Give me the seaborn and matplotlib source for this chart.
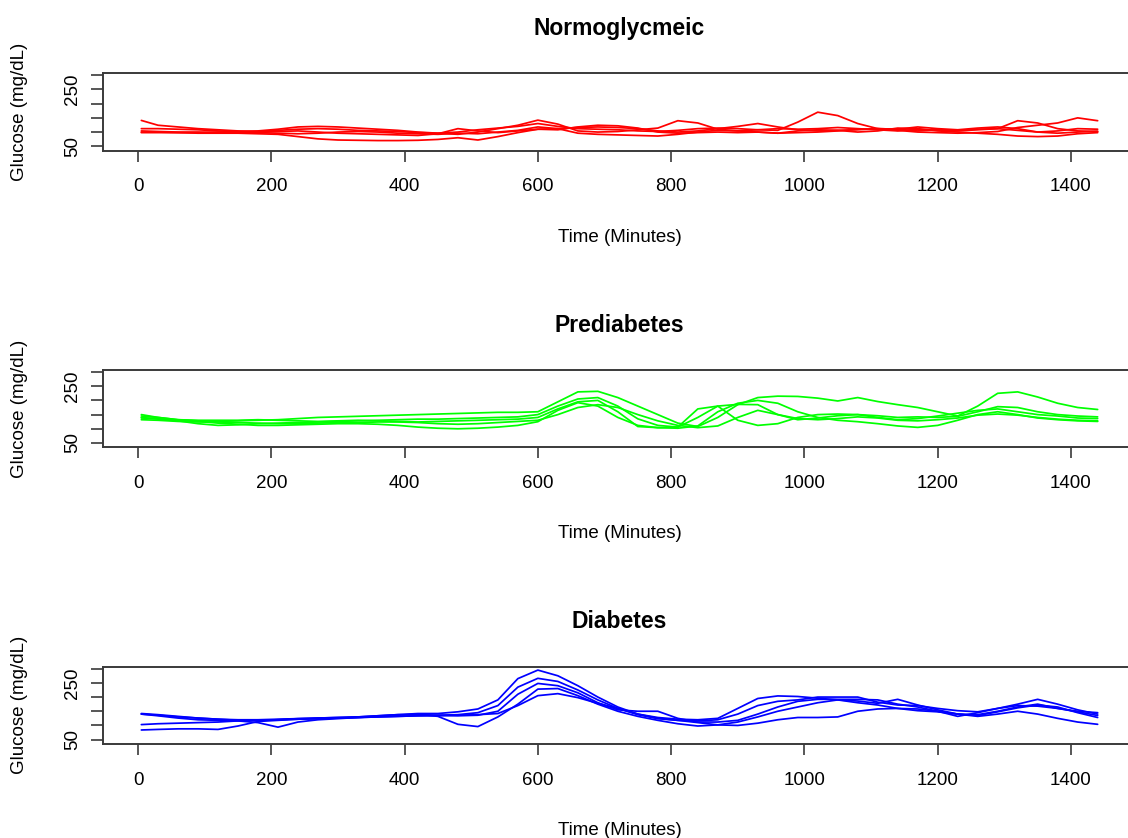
import numpy as np
import pandas as pd
import matplotlib
matplotlib.use("Agg")
import matplotlib.pyplot as plt
import seaborn as sns

# Time axis (minutes) and glucose traces, 5 subjects per group
TIME = [5, 30, 60, 90, 120, 150, 180, 210, 240, 270, 300, 330, 360, 390, 420,
        450, 480, 510, 540, 570, 600, 630, 660, 690, 720, 750, 780, 810, 840,
        870, 900, 930, 960, 990, 1020, 1050, 1080, 1110, 1140, 1170, 1200,
        1230, 1260, 1290, 1320, 1350, 1380, 1410, 1440]

NORMO_1 = [141, 124, 118, 112, 108, 104, 102, 106, 110, 112, 110, 106, 104, 102, 98, 96, 100, 108, 114, 120,
           130, 120, 112, 110, 108, 104, 102, 106, 112, 114, 112, 108, 106, 135, 170, 158, 130, 112, 110, 104,
           108, 106, 110, 112, 106, 100, 104, 112, 110]
NORMO_2 = [112, 112, 110, 108, 104, 102, 104, 110, 118, 120, 118, 114, 110, 106, 100, 96, 92, 100, 112, 124,
           142, 128, 104, 100, 102, 108, 114, 140, 132, 110, 104, 108, 112, 110, 112, 116, 112, 108, 104, 110,
           106, 104, 108, 112, 140, 132, 112, 104, 102]
NORMO_3 = [100, 100, 98, 96, 96, 96, 94, 92, 84, 76, 72, 71, 70, 70, 71, 74, 80, 72, 84, 98,
           110, 112, 116, 118, 116, 112, 104, 100, 104, 112, 120, 130, 118, 108, 104, 106, 108, 112, 106, 100,
           98, 96, 98, 102, 116, 124, 132, 150, 140]
NORMO_4 = [104, 102, 100, 100, 98, 98, 100, 102, 104, 100, 96, 94, 92, 90, 88, 94, 112, 104, 98, 104,
           110, 108, 118, 124, 122, 114, 100, 96, 98, 100, 98, 100, 96, 98, 100, 104, 110, 112, 110, 118,
           112, 108, 114, 118, 112, 100, 96, 100, 103]
NORMO_5 = [98, 98, 98, 98, 100, 100, 98, 96, 94, 96, 100, 102, 100, 96, 94, 92, 96, 94, 100, 106,
           118, 112, 96, 92, 90, 88, 86, 92, 100, 106, 104, 100, 96, 104, 108, 106, 100, 104, 114, 112,
           104, 100, 96, 92, 86, 84, 86, 94, 98]

PRE_1 = [150, 140, 132, 128, 126, 128, 130, 132, 136, 140, 142, 144, 146, 148, 150, 152, 154, 156, 158, 158,
         160, 195, 230, 232, 210, 180, 150, 120, 108, 140, 185, 210, 215, 214, 208, 198, 210, 196, 185, 175,
         160, 145, 180, 225, 230, 212, 190, 175, 168]
PRE_2 = [140, 134, 128, 118, 112, 114, 118, 120, 122, 124, 126, 128, 130, 132, 134, 134, 136, 138, 140, 142,
         150, 180, 205, 210, 180, 135, 112, 106, 140, 180, 186, 185, 150, 132, 138, 146, 150, 146, 140, 142,
         140, 144, 160, 178, 175, 160, 150, 145, 142]
PRE_3 = [145, 140, 132, 130, 130, 130, 132, 130, 128, 126, 128, 130, 128, 126, 124, 126, 128, 130, 132, 134,
         140, 170, 195, 200, 160, 108, 104, 106, 170, 180, 130, 112, 118, 140, 150, 152, 150, 140, 132, 136,
         145, 155, 165, 170, 160, 150, 145, 138, 136]
PRE_4 = [138, 136, 130, 126, 120, 116, 112, 112, 114, 116, 118, 118, 116, 112, 106, 102, 100, 102, 106, 112,
         125, 165, 192, 180, 140, 112, 104, 102, 110, 160, 190, 200, 190, 160, 140, 130, 125, 118, 110, 105,
         112, 130, 150, 160, 150, 138, 132, 128, 126]
PRE_5 = [132, 130, 126, 124, 124, 122, 120, 118, 118, 120, 122, 122, 124, 124, 122, 118, 116, 118, 122, 126,
         130, 150, 175, 185, 175, 150, 128, 112, 104, 110, 140, 165, 150, 136, 132, 136, 142, 138, 130, 128,
         132, 138, 148, 152, 148, 140, 134, 130, 128]

DIAB_1 = [142, 138, 132, 126, 122, 120, 120, 122, 124, 126, 128, 130, 134, 138, 142, 142, 148, 158, 190, 265,
          295, 275, 240, 200, 165, 140, 128, 122, 120, 125, 160, 195, 204, 202, 196, 190, 180, 172, 160, 152,
          148, 140, 138, 150, 165, 175, 160, 150, 145]
DIAB_2 = [140, 136, 130, 126, 122, 118, 118, 120, 122, 124, 126, 128, 130, 132, 134, 136, 138, 145, 170, 235,
          266, 255, 225, 190, 160, 138, 124, 118, 116, 120, 140, 170, 185, 190, 200, 200, 200, 182, 172, 170,
          160, 152, 148, 160, 175, 192, 175, 155, 140]
DIAB_3 = [103, 106, 108, 110, 112, 116, 118, 120, 124, 126, 128, 130, 134, 138, 138, 136, 134, 136, 150, 210,
          248, 240, 215, 180, 155, 150, 150, 125, 112, 112, 118, 140, 165, 185, 192, 192, 192, 190, 175, 165,
          150, 132, 145, 160, 170, 168, 160, 148, 135]
DIAB_4 = [84, 86, 88, 88, 86, 98, 114, 118, 122, 124, 126, 128, 132, 136, 140, 132, 104, 96, 130, 175,
          228, 230, 205, 175, 150, 132, 118, 106, 98, 102, 112, 130, 150, 165, 180, 190, 186, 178, 192, 172,
          155, 140, 135, 148, 162, 172, 165, 145, 128]
DIAB_5 = [140, 134, 126, 120, 118, 116, 110, 94, 112, 120, 124, 128, 130, 132, 134, 134, 136, 138, 142, 170,
          205, 212, 198, 178, 160, 140, 125, 118, 110, 102, 100, 108, 120, 128, 128, 130, 150, 158, 160, 158,
          150, 140, 132, 140, 150, 140, 125, 112, 104]

TITLES = ["Normoglycmeic", "Prediabetes", "Diabetes"]
COLORS = ["#ff0000", "#00ff00", "#0000ff"]
GROUPS = [[NORMO_1, NORMO_2, NORMO_3, NORMO_4, NORMO_5],
          [PRE_1, PRE_2, PRE_3, PRE_4, PRE_5],
          [DIAB_1, DIAB_2, DIAB_3, DIAB_4, DIAB_5]]

X_TICKS = [0, 200, 400, 600, 800, 1000, 1200, 1400]
Y_TICKS = [50, 100, 150, 200, 250, 300]
Y_TICK_LABELS = ["50", "", "", "", "250", ""]

sns.set_style("ticks")
plt.rcParams["font.family"] = ["Liberation Sans", "DejaVu Sans"]
plt.rcParams["text.color"] = "black"
plt.rcParams["axes.labelcolor"] = "black"
plt.rcParams["xtick.labelcolor"] = "black"
plt.rcParams["ytick.labelcolor"] = "black"

fig = plt.figure(figsize=(11.28, 8.38), dpi=100)

# axes box in pixels (R layout, right edge falls just outside the image)
AX_LEFT = 103.1 / 1128
AX_W = 1032.8 / 1128
AX_H = 77.2 / 838
BOTTOMS = [0.8204, 0.4663, 0.1123]

for title, color, curves, bottom in zip(TITLES, COLORS, GROUPS, BOTTOMS):
    ax = fig.add_axes([AX_LEFT, bottom, AX_W, AX_H])
    df = pd.DataFrame({
        "time": TIME * len(curves),
        "glucose": sum(curves, []),
        "subject": np.repeat(np.arange(len(curves)), len(TIME)),
    })
    sns.lineplot(data=df, x="time", y="glucose", hue="subject",
                 palette=[color] * len(curves), estimator=None, legend=False,
                 linewidth=1.25, ax=ax)
    ax.set_xlim(-52.4, 1497.4)
    ax.set_ylim(35, 307)
    ax.set_xticks(X_TICKS)
    ax.set_yticks(Y_TICKS)
    ax.set_yticklabels(Y_TICK_LABELS)
    for s in ax.spines.values():
        s.set_color("#3a3a3a")
        s.set_linewidth(1.4)
    ax.tick_params(axis="x", length=7.6, width=1.2, pad=12.5, labelsize=13.5,
                   color="#3a3a3a", labelcolor="black")
    ax.tick_params(axis="y", length=8.3, width=1.2, pad=7.7, labelsize=13.5,
                   color="#3a3a3a", labelcolor="black", labelrotation=90)
    for lab in ax.get_yticklabels():
        lab.set_va("center")
    ax.set_title(title, fontsize=16.5, fontweight="bold", pad=27.6, color="black")
    ax.set_xlabel("Time (Minutes)", fontsize=13.5, va="center", color="black")
    ax.xaxis.set_label_coords(0.5, -(237 - 150.5) / 77.2)
    ax.set_ylabel("Glucose (mg/dL)", fontsize=13.5, va="center", color="black")
    ax.yaxis.set_label_coords((20 - 103.1) / 1032.8, 0.5)

fig.savefig("out.png", dpi=100)
